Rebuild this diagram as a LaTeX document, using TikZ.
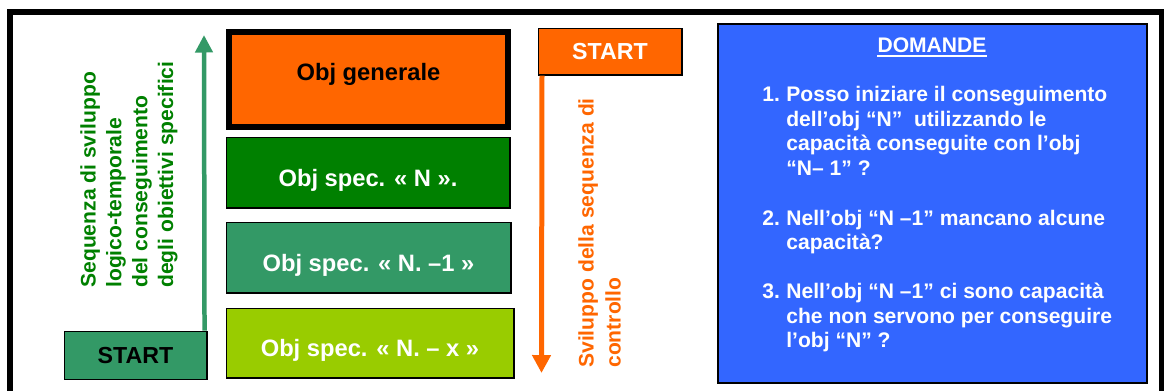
\documentclass[tikz,border=0pt]{standalone}
\usepackage{fontspec}
\setmainfont{Liberation Sans}
\usetikzlibrary{
    arrows.meta,
    positioning
}
\definecolor{orangecol}{HTML}{FF6600}
\definecolor{darkgreen}{HTML}{008000}
\definecolor{seagreen}{HTML}{339966}
\definecolor{limecol}{HTML}{99CC00}
\definecolor{bluecol}{HTML}{3366FF}

% shift a box's text up/down without changing its size
\newcommand{\nudge}[2]{\raisebox{#1}[\height][\depth]{#2}}

\begin{document}
\begin{tikzpicture}[
    x=0.02cm, y=-0.02cm,
    font=\bfseries\fontsize{13.5pt}{16pt}\selectfont,
    objbox/.style={
        draw, line width=0.6pt, inner sep=0pt, anchor=north west,
        text=white
    },
    startbox/.style={
        draw, line width=0.6pt, inner sep=0pt, anchor=north west,
        font=\bfseries\fontsize{13.2pt}{16pt}\selectfont
    },
    vlabel/.style={
        rotate=90, anchor=north west, align=left, inner sep=0pt
    },
    uparr/.style={line width=0.09cm, seagreen,
        -{Triangle[width=0.34cm, length=0.35cm]}},
    downarr/.style={line width=0.1cm, orangecol,
        -{Triangle[width=0.36cm, length=0.36cm]}},
]
\useasboundingbox (0,0) rectangle (1164,390);

% outer frame (open at the bottom)
\draw[line width=0.12cm] (9.7,400) |- (1161.5,12) -- (1161.5,400);

% ── objectives stack ──
\node[objbox, line width=0.12cm, fill=orangecol, text=black,
      minimum width=5.58cm, minimum height=1.9cm] (gen) at (226,29)
    {\nudge{0.11cm}{Obj generale}};
\node[objbox, fill=darkgreen, minimum width=5.68cm, minimum height=1.42cm]
    (specN) at (225.5,136.5) {\nudge{-0.15cm}{Obj spec. « N ».}};
\node[objbox, fill=seagreen, minimum width=5.7cm, minimum height=1.42cm]
    (specNa) at (225.5,221.5) {\nudge{-0.15cm}{Obj spec. « N. –1 »}};
\node[objbox, fill=limecol, minimum width=5.76cm, minimum height=1.40cm]
    (specNx) at (225.5,307.5) {\nudge{-0.14cm}{Obj spec. « N. – x »}};

% ── development sequence (upwards) ──
\node[startbox, fill=seagreen, text=black,
      minimum width=2.86cm, minimum height=0.96cm] (startL) at (63.5,330.5) {START};
\coordinate (gtip) at (204,35);
\draw[uparr] ([xshift=-0.06cm]startL.north east) -- (gtip);

\node[vlabel, text=darkgreen,
      font=\bfseries\fontsize{12pt}{14.7pt}\selectfont] (seqlabel) at (80,288) {%
    Sequenza di sviluppo\\
    logico-temporale\\
    del conseguimento\\
    degli obiettivi specifici};

% ── control sequence (downwards) ──
\node[startbox, fill=orangecol, text=white,
      minimum width=2.88cm, minimum height=0.94cm] (startR) at (537.5,27.5) {START};
\coordinate (otip) at (541.5,373);
\draw[downarr] ([xshift=0.09cm]startR.south west) -- (otip);

\node[vlabel, text=orangecol,
      font=\bfseries\fontsize{12pt}{15.3pt}\selectfont] (ctrllabel) at (578,368) {%
    Sviluppo della sequenza di\\
    controllo};

% ── questions panel ──
\node[draw, line width=1.2pt, fill=bluecol, anchor=north west,
      minimum width=8.58cm, minimum height=7.18cm] (qbox) at (717,23) {};

\node[text=white, inner sep=0pt, anchor=base,
      font=\bfseries\fontsize{12pt}{14pt}\selectfont] (domande) at (932,52.7) {DOMANDE};
\draw[white, line width=1.1pt]
    ([yshift=-0.07cm]domande.base west) -- ([yshift=-0.07cm]domande.base east);

\node[text=white, inner sep=0pt, anchor=north west,
      font=\bfseries\fontsize{12pt}{13.9pt}\selectfont] (qlist) at (762,84.5) {%
    \begin{tabular}{@{}p{0.48cm}@{}l@{}}
    1. & Posso iniziare il conseguimento\\
       & dell’obj “N”\ \ utilizzando le\\
       & capacità conseguite con l’obj\\
       & “N– 1” ?\\[0.51cm]
    2. & Nell’obj “N –1” mancano alcune\\
       & capacità?\\[0.5cm]
    3. & Nell’obj “N –1” ci sono capacità\\
       & che non servono per conseguire\\
       & l’obj “N” ?
    \end{tabular}};

\end{tikzpicture}
\end{document}
